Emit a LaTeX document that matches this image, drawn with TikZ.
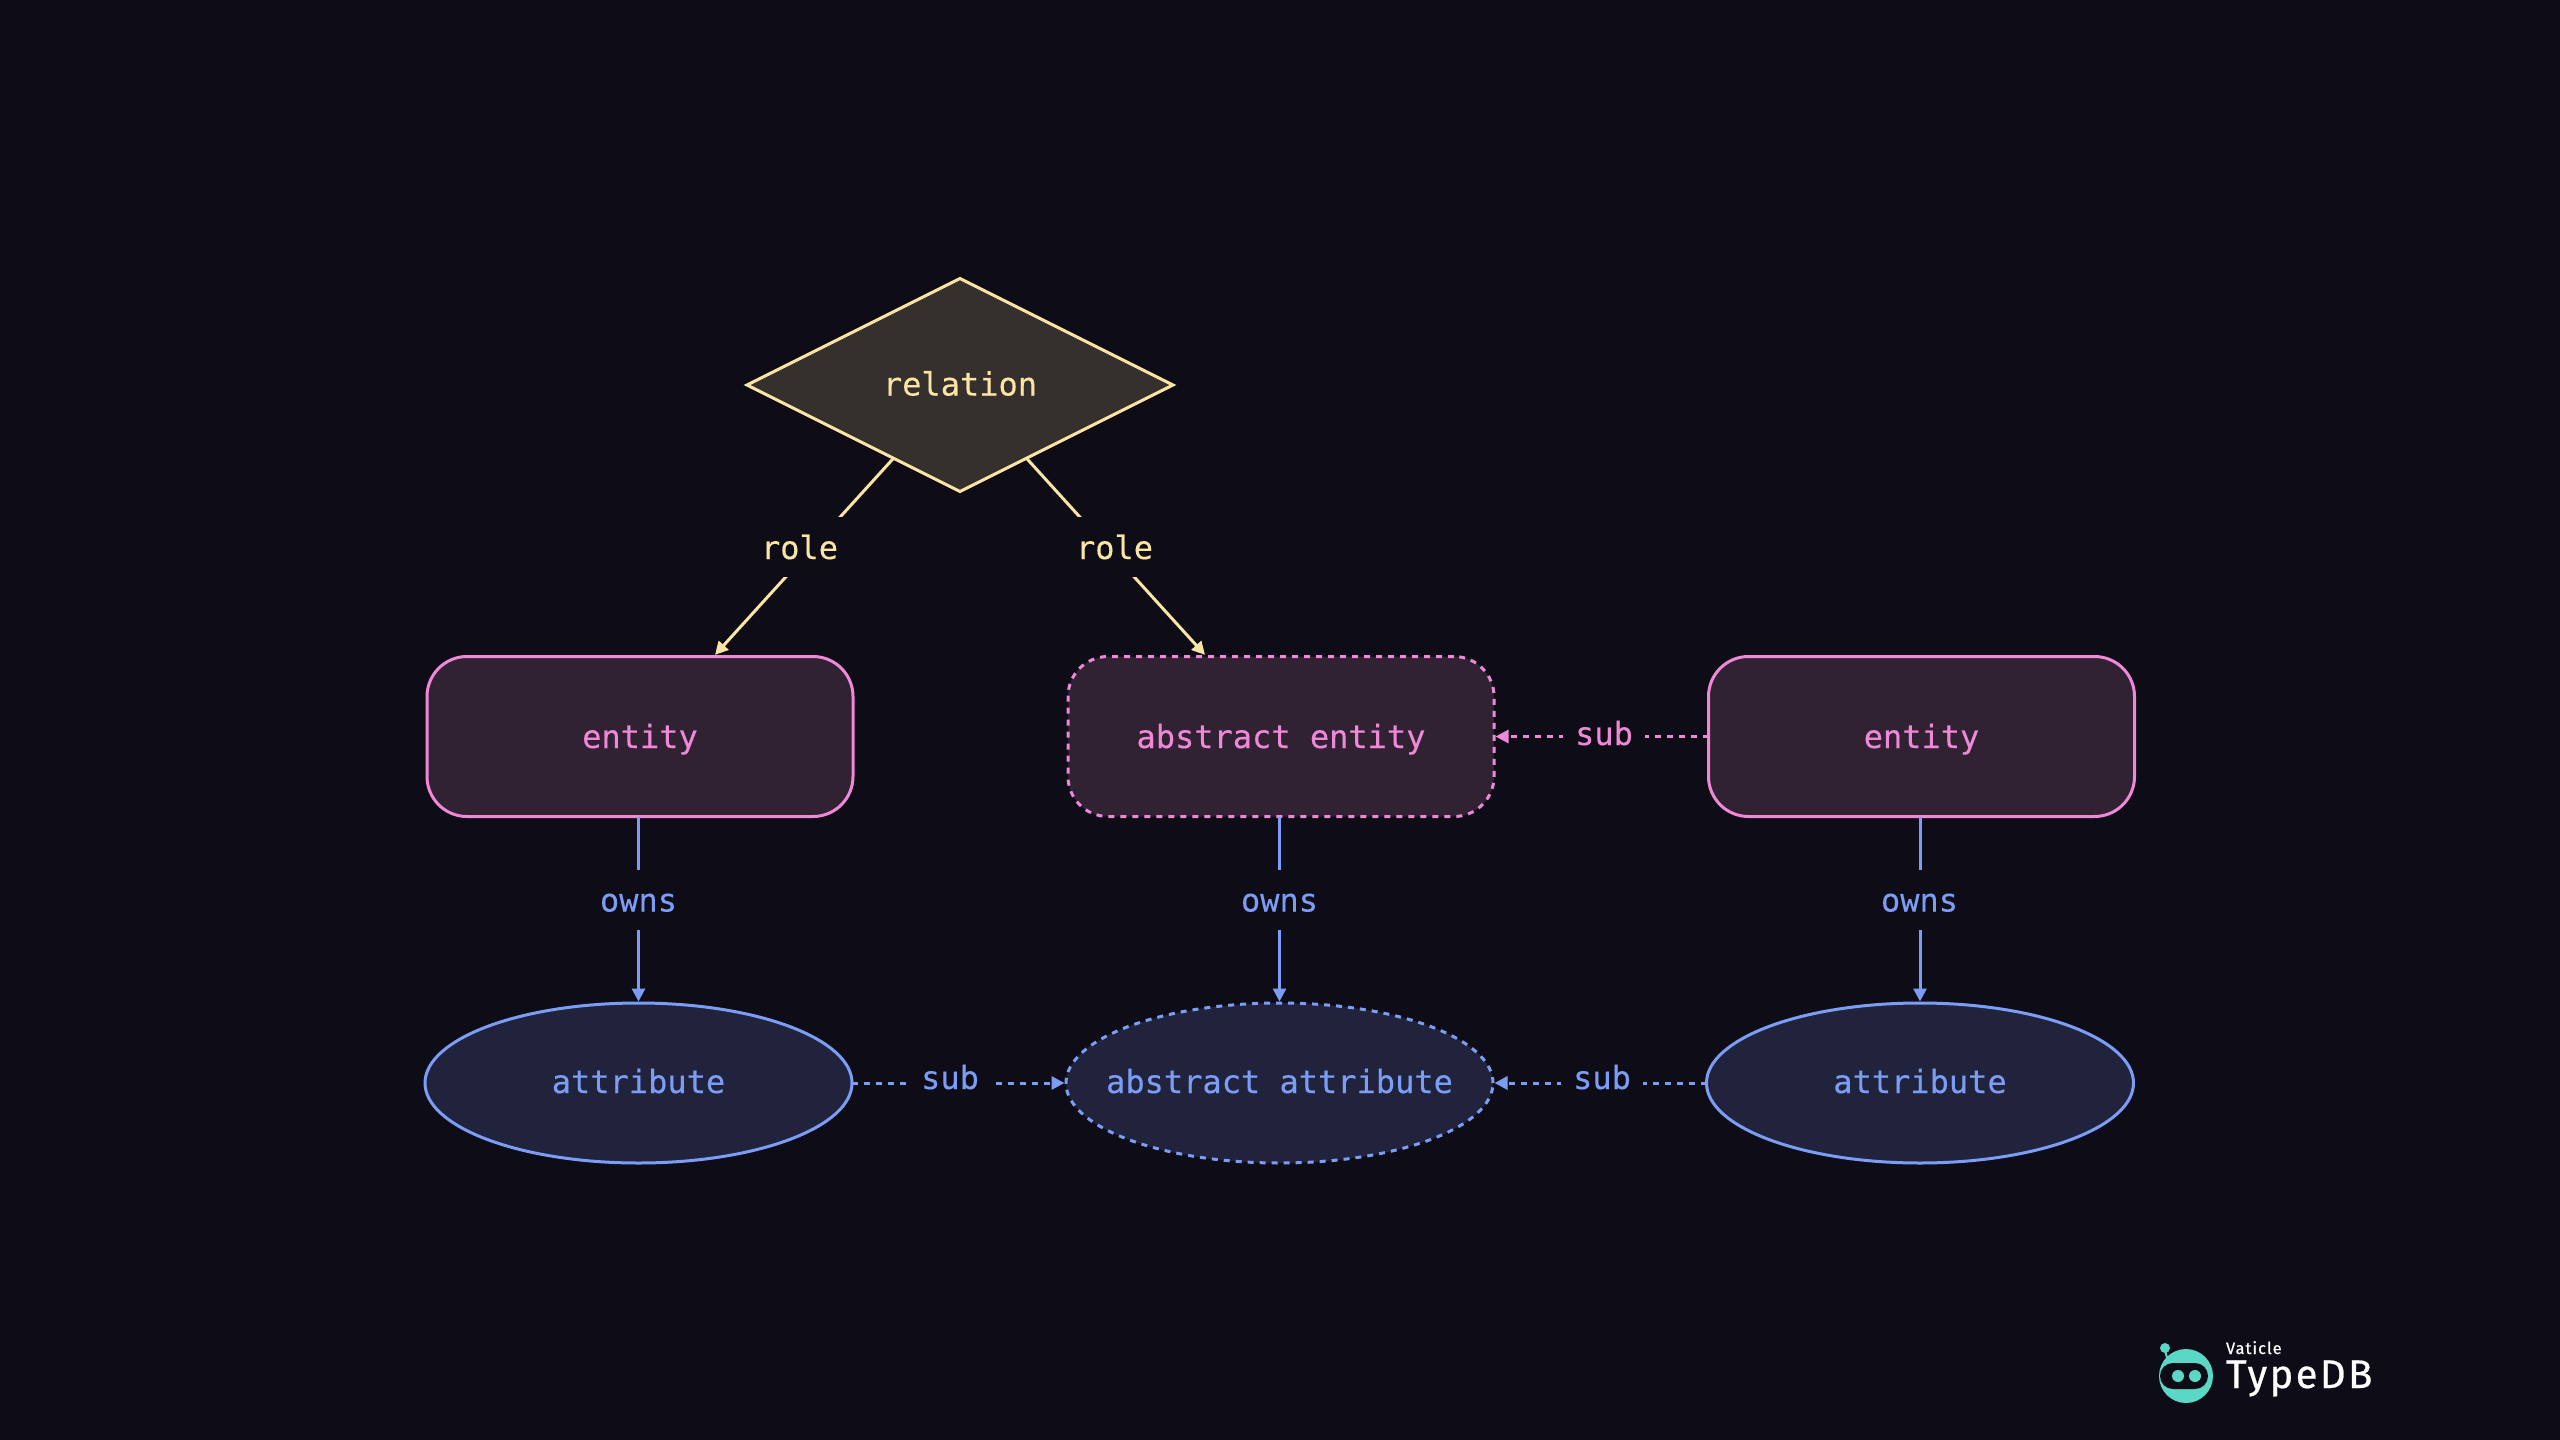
\documentclass[tikz,border=0pt]{standalone}
\usepackage{fontspec}
\usetikzlibrary{shapes.geometric,arrows.meta}
\newfontfamily\monofnt[FakeBold=0.25]{DejaVu Sans Mono}
\newfontfamily\logofnt[LetterSpace=6,FakeBold=0.6]{Fira Sans}
\definecolor{bgc}{HTML}{0D0C17}
\definecolor{yel}{HTML}{FCE4A5}
\definecolor{yelf}{HTML}{35302E}
\definecolor{pnk}{HTML}{F088D8}
\definecolor{pnkf}{HTML}{302133}
\definecolor{blu}{HTML}{7C9DF5}
\definecolor{bluf}{HTML}{20233B}
\definecolor{teal1}{HTML}{5BD8C5}
\tikzset{
  x=1pt,y=-1pt,
  every node/.style={inner sep=0pt,outer sep=0pt},
  txt/.style={font=\monofnt\fontsize{32}{38}\selectfont},
  relbox/.style={shape=diamond,aspect=2,minimum width=426pt,minimum height=213pt,text height=21pt,text depth=0pt,inner sep=-20pt,draw=yel,fill=yelf,line width=3pt,txt,text=yel},
  entbox/.style={shape=rectangle,rounded corners=40pt,minimum width=426pt,minimum height=160pt,text height=23pt,text depth=0pt,draw=pnk,fill=pnkf,line width=3pt,txt,text=pnk},
  attbox/.style={shape=ellipse,minimum width=427pt,minimum height=160pt,text height=20pt,text depth=0pt,inner xsep=-30pt,draw=blu,fill=bluf,line width=3pt,txt,text=blu},
  absdash/.style={dash pattern=on 6pt off 6pt},
  conn/.style={line width=3pt,shorten >=1.5pt,-{Triangle[length=13pt,width=13pt]}},
  lbl/.style={txt,fill=bgc,anchor=base,minimum width=#1},
  rolelbl/.style={lbl=96pt,text=yel,text height=42pt,text depth=18pt},
  ownslbl/.style={lbl=96pt,text=blu,text height=41.5pt,text depth=18.5pt},
  sublbl/.style={lbl=82pt,text height=42pt,text depth=18pt},
}
\begin{document}
\begin{tikzpicture}
\useasboundingbox (0,0) rectangle (2560,1440);
\fill[bgc] (0,0) rectangle (2560,1440);
% nodes
\node[relbox] (rel) at (960,385) {relation};
\node[entbox] (ent1) at (640,736.5) {entity};
\node[entbox,absdash] (ent2) at (1281,736.5) {abstract entity};
\node[entbox] (ent3) at (1921.5,736.5) {entity};
\node[attbox] (att1) at (638.5,1083) {attribute};
\node[attbox,absdash] (att2) at (1279.5,1083) {abstract attribute};
\node[attbox] (att3) at (1920,1083) {attribute};
% free ends of the role connectors
\coordinate (t1) at (714,656);
\coordinate (t2) at (1206,656);
% connectors
\draw[conn,yel] (rel) -- (t1);
\draw[conn,yel] (rel) -- (t2);
\draw[conn,blu] (att1.north |- ent1.south) -- (att1.north);
\draw[conn,blu] (att2.north |- ent2.south) -- (att2.north);
\draw[conn,blu] (att3.north |- ent3.south) -- (att3.north);
\draw[conn,pnk,absdash] (ent3.west) -- (ent2.east);
\draw[conn,blu,absdash] (att1.east) -- (att2.west);
\draw[conn,blu,absdash] (att3.west) -- (att2.east);
% labels
\node[rolelbl] (lr1) at (799.5,559) {role};
\node[rolelbl] (lr2) at (1114.5,559) {role};
\node[ownslbl] (lo1) at (638.5,911.5) {owns};
\node[ownslbl] (lo2) at (1279.5,911.5) {owns};
\node[ownslbl] (lo3) at (1919.5,911.5) {owns};
\node[sublbl,text=pnk] (ls1) at (1604,745) {sub};
\node[sublbl,text=blu] (ls2) at (950,1089) {sub};
\node[sublbl,text=blu] (ls3) at (1602,1089) {sub};
% logo
\fill[teal1] (2186,1376) circle[radius=27];
\fill[teal1] (2165,1348) circle[radius=5];
\draw[teal1,line width=2pt] (2165,1350) -- (2168,1362);
\fill[bgc,rounded corners=13pt] (2160,1363) rectangle (2208,1389);
\fill[teal1] (2178,1376) circle[radius=6];
\fill[teal1] (2195,1376) circle[radius=6];
\node[anchor=base west,text=white,font=\logofnt\fontsize{16.5}{20}\selectfont] (lv) at (2226,1354) {Vaticle};
\node[anchor=base west,text=white,font=\logofnt\fontsize{40}{48}\selectfont] (lt) at (2226,1388) {TypeDB};
\end{tikzpicture}
\end{document}
